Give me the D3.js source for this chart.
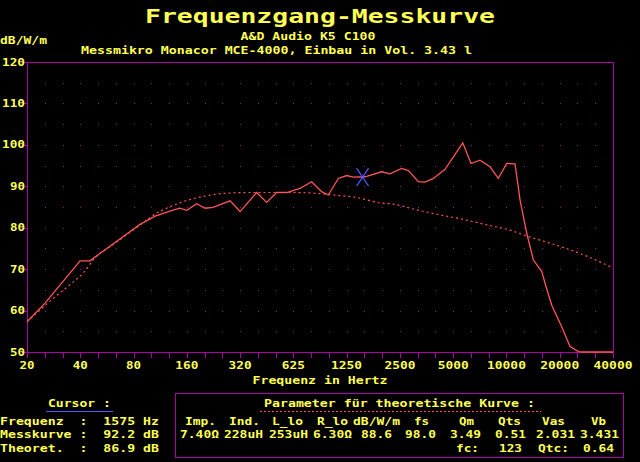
<!DOCTYPE html>
<html>
<head>
<meta charset="utf-8">
<script src="https://cdn.jsdelivr.net/npm/d3@7"></script>
<style>
  body { margin: 0; background: #000; }
  svg { display: block; }
  text { font-family: "DejaVu Sans Mono", monospace; font-weight: bold; white-space: pre; }
</style>
</head>
<body>
<svg id="vis" width="640" height="462"></svg>
<script>
// frequency axis labels (one per octave) and level ticks
var freqLabels = ["20", "40", "80", "160", "320", "625", "1250", "2500", "5000", "10000", "20000", "40000"];
var dbTicks = [50, 60, 70, 80, 90, 100, 110, 120];

// measured curve
var measFreq = [20, 25.3, 39.9, 45.4, 48.4, 71.6, 87, 106, 131, 146, 160, 182, 203, 225, 281, 320, 397, 452, 515, 587,
	698, 812, 925, 1008, 1149, 1281, 1396, 1626, 2020, 2250, 2621, 2857, 3255, 3550, 3955, 4605, 5800, 6460, 7260, 8270,
	9210, 10280, 11450, 12220, 13340, 14540, 16210, 16920, 18460, 21010, 23420, 26090, 27720, 40960];
var measDb = [57.3, 61.8, 72.0, 72.0, 72.9, 78.2, 80.8, 82.8, 84.1, 84.7, 84.2, 85.8, 84.7, 84.9, 86.5, 83.9, 88.5, 86.1, 88.5, 88.5,
	89.5, 91.1, 88.7, 87.9, 91.9, 92.6, 92.2, 92.3, 93.5, 93.0, 94.3, 93.8, 91.1, 91.0, 91.9, 94.1, 100.5, 95.5, 96.3, 94.7,
	91.9, 95.5, 95.4, 86.7, 78.6, 72.2, 69.4, 66.6, 61.3, 56.1, 51.3, 50.1, 50.0, 50.0];

// theoretical curve
var theoFreq = [20, 28.8, 34.2, 41.6, 49.1, 58.9, 71.6, 87, 106, 131, 170, 207, 263, 364, 613, 795, 1076, 1459, 1977, 2350,
	3186, 4314, 5840, 7920, 10730, 13340, 18850, 26670, 40400];
var theoDb = [57.3, 63.3, 65.9, 69.1, 73.0, 75.4, 78.0, 80.6, 83.3, 85.2, 86.9, 87.7, 88.3, 88.5, 88.5, 88.4, 87.9, 87.3, 86.0, 85.7,
	84.3, 83.1, 82.0, 80.7, 79.4, 78.0, 76.0, 73.8, 70.4];

// cursor readout
var cursorFreq = 1575, cursorMeas = 92.2, cursorTheo = 86.9;
var cursorRows = ["Frequenz  :  1575 Hz", "Messkurve :  92.2 dB", "Theoret.  :  86.9 dB"];

// parameter table
var paramNames = ["Imp.", "Ind.", "L_lo", "R_lo", "dB/W/m", "fs", "Qm", "Qts", "Vas", "Vb"];
var paramValues = ["7.40\u03a9", "228uH", "253uH", "6.30\u03a9", "88.6", "98.0", "3.49", "0.51", "2.031", "3.431"];
var extraNames = ["fc:", "Qtc:"];
var extraValues = ["123", "0.64"];

var yellow = "#ffff55", magenta = "#aa00aa", red = "#ff5555", blue = "#5555ff";

var svg = d3.select("#vis");
var margin = {top: 62, right: 27, bottom: 110, left: 27};
var width = 640, height = 462;

var x = d3.scaleLog().base(2).domain([20, 20 * Math.pow(2, 11)]).range([margin.left, width - margin.right]);
var y = d3.scaleLinear().domain([50, 120]).range([height - margin.bottom, margin.top]);

// text in a fixed cell grid, like the old bitmap font
function label(g, str, px, py, cell, anchor, color)
{
	var len = cell * str.length - cell / 8;
	var left = px;
	if (anchor == "middle") left = px - len / 2;
	if (anchor == "end") left = px - len;
	return g.append("text")
		.attr("x", left).attr("y", py)
		.attr("font-size", cell * 1.22 + "px")
		.attr("textLength", len)
		.attr("lengthAdjust", "spacingAndGlyphs")
		.attr("fill", color || yellow)
		.text(str);
}

svg.append("rect").attr("width", width).attr("height", height).attr("fill", "#000");

// titles
label(svg, "Frequenzgang-Messkurve", 320, 23, 16, "middle");
label(svg, "A&D Audio K5 C100", 308, 40, 8, "middle");
label(svg, "dB/W/m", 0, 44, 8, "start");
label(svg, "Messmikro Monacor MCE-4000, Einbau in Vol. 3.43 l", 81, 54, 8, "start");

// grid dots on third octaves and 5 dB steps
var thirds = d3.range(0, 34).map(function(i) { return 20 * Math.pow(2, i / 3); });
var fives = d3.range(55, 120, 5);
var dots = [];
thirds.slice(1, 33).forEach(function(f) { fives.forEach(function(v) { dots.push([f, v]); }); });
svg.append("g").selectAll("rect").data(dots).enter().append("rect")
	.attr("x", function(d) { return Math.round(x(d[0])); })
	.attr("y", function(d) { return Math.round(y(d[1])); })
	.attr("width", 1).attr("height", 1)
	.attr("fill", magenta);

// axes
var xAxis = d3.axisBottom(x).tickValues(thirds).tickSize(6).tickFormat("").tickSizeOuter(0);
var gx = svg.append("g").attr("transform", "translate(0," + y(50) + ")").call(xAxis);
var yAxis = d3.axisLeft(y).tickValues(dbTicks).tickSize(5).tickFormat("").tickSizeOuter(0);
var gy = svg.append("g").attr("transform", "translate(" + x(20) + ",0)").call(yAxis);
svg.selectAll(".domain, .tick line").attr("stroke", magenta).attr("shape-rendering", "crispEdges");

svg.append("path")
	.attr("d", "M" + x(20) + "," + y(120) + "H" + x(20 * Math.pow(2, 11)) + "V" + y(50))
	.attr("fill", "none").attr("stroke", magenta).attr("shape-rendering", "crispEdges");

freqLabels.forEach(function(t, i) {
	label(svg, t, x(20 * Math.pow(2, i)), 369, 8, "middle");
});
dbTicks.forEach(function(v) {
	label(svg, String(v), 25, y(v) + 3.5, 8, "end");
});
label(svg, "Frequenz in Hertz", 320, 384, 8, "middle");

// curves
var theoLine = d3.line()
	.x(function(d, i) { return x(theoFreq[i]); })
	.y(function(d) { return y(d); })
	.curve(d3.curveMonotoneX);
svg.append("path").attr("d", theoLine(theoDb))
	.attr("fill", "none").attr("stroke", red).attr("stroke-width", 1.2).attr("stroke-dasharray", "2,3");

var measLine = d3.line()
	.x(function(d, i) { return x(measFreq[i]); })
	.y(function(d) { return y(d); });
svg.append("path").attr("d", measLine(measDb))
	.attr("fill", "none").attr("stroke", red).attr("stroke-width", 1.3);

// cursor star
var cx = x(cursorFreq), cy = y(cursorMeas);
var star = svg.append("g").attr("stroke", blue).attr("stroke-width", 1.2);
star.append("line").attr("x1", cx - 6).attr("y1", cy - 9).attr("x2", cx + 6).attr("y2", cy + 9);
star.append("line").attr("x1", cx - 6).attr("y1", cy + 9).attr("x2", cx + 6).attr("y2", cy - 9);
star.append("circle").attr("cx", cx).attr("cy", cy).attr("r", 1.5).attr("fill", blue).attr("stroke", "none");

// cursor panel
label(svg, "Cursor :", 48, 407, 8, "start");
svg.append("line").attr("x1", 46).attr("x2", 113).attr("y1", 411.5).attr("y2", 411.5).attr("stroke", blue);
cursorRows.forEach(function(r, i) {
	label(svg, r, 0, 424.5 + i * 13.7, 8, "start");
});

// parameter panel
svg.append("rect").attr("x", 175.5).attr("y", 393.5).attr("width", 448).attr("height", 64)
	.attr("fill", "none").attr("stroke", magenta);
label(svg, "Parameter f\u00fcr theoretische Kurve :", 264, 407, 8, "start");
svg.append("line").attr("x1", 260).attr("x2", 541).attr("y1", 411.5).attr("y2", 411.5)
	.attr("stroke", red).attr("stroke-dasharray", "2,2");

var nameX = [185, 229, 272, 317, 353, 414, 459, 498, 542, 591];
var valueX = [180, 224, 269, 313, 361, 405, 450, 495, 536, 580];
paramNames.forEach(function(t, i) { label(svg, t, nameX[i], 424.5, 8, "start"); });
paramValues.forEach(function(t, i) { label(svg, t, valueX[i], 438, 8, "start"); });
var extraNameX = [456, 538], extraValueX = [499, 583];
extraNames.forEach(function(t, i) { label(svg, t, extraNameX[i], 452, 8, "start"); });
extraValues.forEach(function(t, i) { label(svg, t, extraValueX[i], 452, 8, "start"); });
</script>
</body>
</html>
